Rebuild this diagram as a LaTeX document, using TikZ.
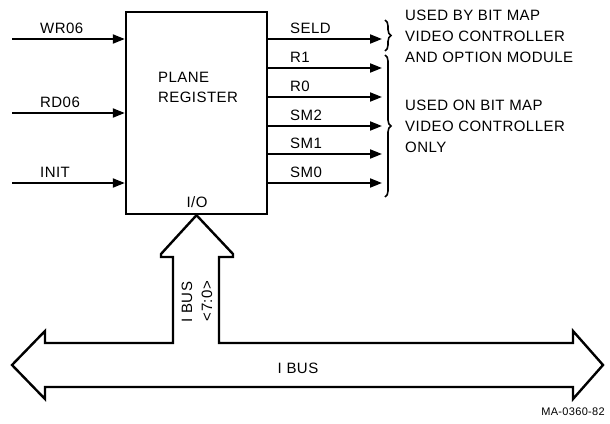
\documentclass[tikz,border=0pt]{standalone}
\usepackage{fontspec}
\setmainfont{Liberation Sans}[LetterSpace=3]
\usetikzlibrary{positioning, arrows.meta, decorations.pathreplacing}

\begin{document}
\begin{tikzpicture}[
    x=1pt, y=-1pt,
    box/.style={draw, line width=2.4pt, minimum width=141pt, minimum height=202pt},
    sig/.style={-{Triangle[length=12pt,width=9pt]}, line width=2pt},
    lbl/.style={font=\fontsize{15}{20}\selectfont, inner sep=0pt, anchor=west},
    note/.style={font=\fontsize{15}{21}\selectfont, align=left, inner sep=0pt, anchor=west},
    brc/.style={decorate, decoration={brace, amplitude=6pt}, line width=1.6pt},
    bus/.style={line width=2.4pt, line join=miter}
]
    \useasboundingbox (0,0) rectangle (610,423);

    \node[box] (reg) at (196.5,113) {};
    \node[lbl, align=left, anchor=center] (name) at (198,87) {PLANE\\REGISTER};
    \node[lbl, anchor=center] (io) at (197,202) {I/O};

    \foreach \y/\t/\n in {39/WR06/wr, 113/RD06/rd, 183/INIT/init} {
        \coordinate (\n) at (12,\y);
        \draw[sig] (\n) -- (\n -| reg.west);
        \node[lbl] (\n-lbl) at (40,\y-11) {\t};
    }

    \foreach \y/\t/\n in {39/SELD/seld, 68/R1/ra, 97/R0/rb, 126/SM2/smc, 154/SM1/smb, 183/SM0/sma} {
        \coordinate (\n) at (382,\y);
        \draw[sig] (\n -| reg.east) -- (\n);
        \node[lbl] (\n-lbl) at (290,\y-11) {\t};
    }

    \coordinate (b1t) at (385,20);
    \coordinate (b1b) at (385,51);
    \coordinate (b2t) at (385,55);
    \coordinate (b2b) at (385,197);
    \draw[brc] (b1t) -- (b1b);
    \draw[brc] (b2t) -- (b2b);

    \node[note] (used1) at (405,36) {USED BY BIT MAP\\VIDEO CONTROLLER\\AND OPTION MODULE};
    \node[note] (used2) at (405,126) {USED ON BIT MAP\\VIDEO CONTROLLER\\ONLY};

    \draw[bus] (12,365) -- (45,331) -- (45,343) -- (173,343) -- (173,257) -- (161,257) -- (161,254)
        -- (reg.south) -- (233,254) -- (233,257) -- (219,257) -- (219,343) -- (573,343) -- (573,331)
        -- (603,365) -- (573,399) -- (573,387) -- (45,387) -- (45,399) -- cycle;

    \node[lbl, rotate=90, anchor=center] (ibusv) at (187,302) {I BUS};
    \node[lbl, rotate=90, anchor=center] (ibusw) at (207,301) {<7:0>};
    \node[lbl, anchor=center] (ibus) at (298,368) {I BUS};
    \node[font=\fontsize{11}{12}\selectfont, anchor=east, inner sep=0pt] (fig) at (605,412) {MA-0360-82};
\end{tikzpicture}
\end{document}
